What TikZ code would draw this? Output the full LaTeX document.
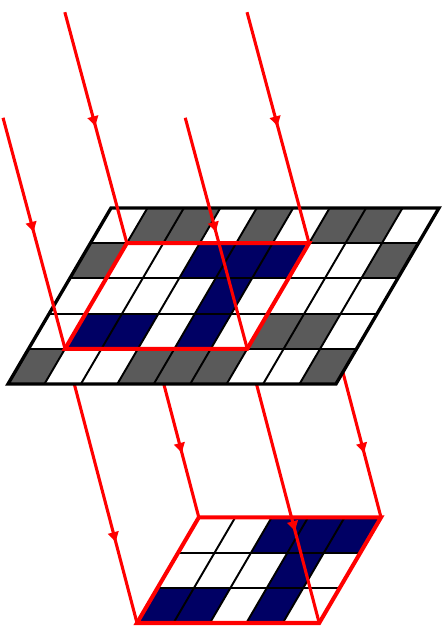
\documentclass[tikz,border=0pt]{standalone}
\usepackage{tikz}
\usetikzlibrary{arrows.meta, decorations.markings, calc}
\definecolor{cellgray}{HTML}{5A5A5A}
\definecolor{cellblue}{HTML}{000064}
\tikzstyle{cellline} = [black, line width=1.1pt]
\tikzstyle{gridborder} = [black, line width=1.9pt, line join=miter]
\tikzstyle{window} = [red, line width=2.3pt, line join=miter]
\tikzstyle{ray} = [red, line width=1.75pt]
\tikzset{
  rayarrow/.style={ray, postaction={decorate},
    decoration={markings, mark=at position #1 with {\arrow{Latex[length=6.5pt,width=7pt]}}}},
  topgrid/.style={shift={(0.16cm,5.06cm)}, x={(0.7288cm,0cm)}, y={(0.412cm,0.704cm)}},
  botgrid/.style={shift={(2.74cm,0.28cm)}, x={(0.7288cm,0cm)}, y={(0.412cm,0.704cm)}}
}

\begin{document}
\begin{tikzpicture}
  \useasboundingbox (0,0) rectangle (8.86,12.74);

  % corners of the window and of the copy
  \begin{scope}[topgrid]
    \coordinate (w-sw) at (1,1);
    \coordinate (w-se) at (6,1);
    \coordinate (w-ne) at (6,4);
    \coordinate (w-nw) at (1,4);
  \end{scope}
  \coordinate (s-sw) at ($(w-sw)+(-1.24cm,4.62cm)$);
  \coordinate (s-se) at ($(w-se)+(-1.24cm,4.62cm)$);
  \coordinate (s-ne) at ($(w-ne)+(-1.24cm,4.62cm)$);
  \coordinate (s-nw) at ($(w-nw)+(-1.24cm,4.62cm)$);

  % lower grid
  \begin{scope}[botgrid]
    \coordinate (b-sw) at (0,0);
    \coordinate (b-se) at (5,0);
    \coordinate (b-ne) at (5,3);
    \coordinate (b-nw) at (0,3);
    \foreach \i/\j in {0/0, 1/0, 3/0, 3/1, 2/2, 3/2, 4/2}
      \fill[cellblue] (\i,\j) -- ++(1,0) -- ++(0,1) -- ++(-1,0) -- cycle;
    \foreach \j in {1,2}
      \draw[cellline] (0,\j) -- (5,\j);
    \foreach \i in {1,...,4}
      \draw[cellline] (\i,0) -- (\i,3);
    \draw[window] (b-sw) -- (b-se) -- (b-ne) -- (b-nw) -- cycle;
  \end{scope}

  % rays going down to the copy
  \draw[rayarrow=0.71] (w-sw) -- (b-sw);
  \draw[rayarrow=0.77] (w-nw) -- (b-nw);
  \draw[rayarrow=0.67] (w-se) -- (b-se);
  \draw[rayarrow=0.77] (w-ne) -- (b-ne);

  % upper grid
  \begin{scope}[topgrid]
    \fill[white] (0,0) -- (9,0) -- (9,5) -- (0,5) -- cycle;
    \foreach \i/\j in {0/0, 3/0, 4/0, 5/0, 8/0, 6/1, 7/1, 0/3, 8/3, 1/4, 2/4, 4/4, 6/4, 7/4}
      \fill[cellgray] (\i,\j) -- ++(1,0) -- ++(0,1) -- ++(-1,0) -- cycle;
    \foreach \i/\j in {1/1, 2/1, 4/1, 4/2, 3/3, 4/3, 5/3}
      \fill[cellblue] (\i,\j) -- ++(1,0) -- ++(0,1) -- ++(-1,0) -- cycle;
    \foreach \j in {1,...,4}
      \draw[cellline] (0,\j) -- (9,\j);
    \foreach \i in {1,...,8}
      \draw[cellline] (\i,0) -- (\i,5);
    \draw[gridborder] (0,0) -- (9,0) -- (9,5) -- (0,5) -- cycle;
  \end{scope}
  \draw[window] (w-sw) -- (w-se) -- (w-ne) -- (w-nw) -- cycle;

  % incoming rays
  \draw[rayarrow=0.5] (s-sw) -- (w-sw);
  \draw[rayarrow=0.5] (s-nw) -- (w-nw);
  \draw[rayarrow=0.5] (s-se) -- (w-se);
  \draw[rayarrow=0.5] (s-ne) -- (w-ne);
\end{tikzpicture}
\end{document}
